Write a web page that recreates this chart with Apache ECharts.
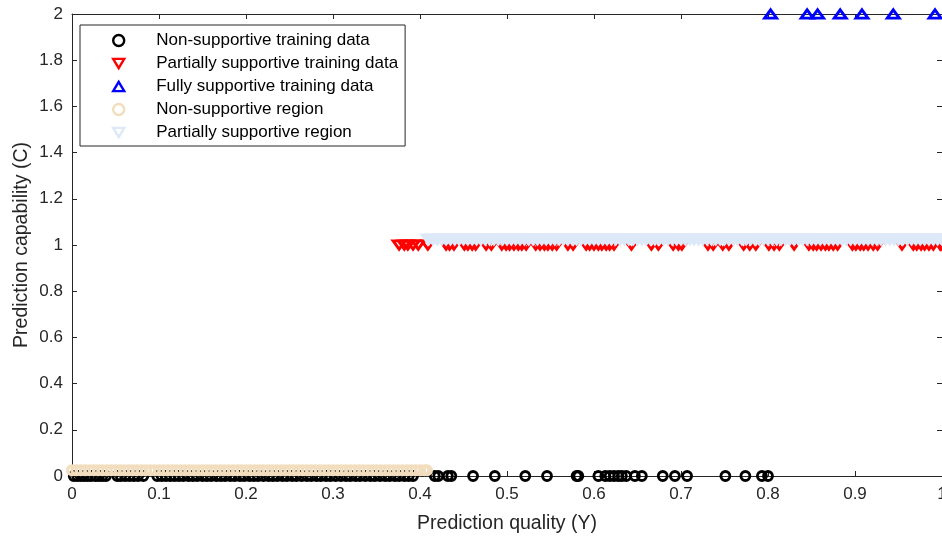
<!DOCTYPE html>
<html><head><meta charset="utf-8">
<script src="https://cdn.jsdelivr.net/npm/echarts@6/dist/echarts.min.js"></script>
<style>html,body{margin:0;padding:0;background:#fff}#c{width:942px;height:539px}</style>
</head><body><div id="c"></div>
<script>
// ---- data ----
const xTicks = [0,0.1,0.2,0.3,0.4,0.5,0.6,0.7,0.8,0.9,1];
const yTicks = [0,0.2,0.4,0.6,0.8,1,1.2,1.4,1.6,1.8,2];

const nonTrainX = [0.002,0.006,0.010,0.014,0.018,0.022,0.027,0.031,0.035,0.039,0.052,0.056,0.061,0.066,0.071,0.076,0.082,
  0.098,0.103,0.108,0.113,0.118,0.123,0.128,0.134,0.139,0.144,0.150,0.155,0.160,0.166,0.171,0.176,0.182,0.187,0.193,0.198,
  0.204,0.209,0.214,0.220,0.226,0.231,0.236,0.242,0.247,0.253,0.258,0.264,0.270,0.275,0.281,0.286,0.292,0.297,0.303,0.309,
  0.315,0.320,0.326,0.331,0.337,0.343,0.348,0.354,0.360,0.365,0.371,0.376,0.382,0.387,0.392,
  0.417,0.421,0.432,0.436,0.461,0.486,0.521,0.546,0.580,0.582,0.605,0.613,0.618,0.623,0.628,0.632,0.637,0.647,0.655,
  0.679,0.693,0.707,0.751,0.774,0.793,0.800];
const nonTrainY = 0;

const partTrainX = [0.376,0.382,0.386,0.392,0.398,0.409,0.430,0.434,0.439,0.451,0.455,0.460,0.464,0.476,0.482,
  0.494,0.499,0.503,0.508,0.513,0.517,0.522,0.533,0.538,0.543,0.547,0.552,0.557,0.570,0.576,
  0.591,0.595,0.600,0.605,0.609,0.614,0.618,0.623,0.643,0.666,0.674,0.691,0.697,0.701,0.731,0.737,0.748,0.755,
  0.772,0.779,0.786,0.801,0.807,0.813,0.830,0.847,0.852,0.856,0.861,0.866,0.870,0.875,0.880,
  0.897,0.901,0.906,0.910,0.915,0.921,0.926,0.954,0.967,0.971,0.976,0.980,0.985,0.990,0.998,1.000];
const partTrainY = 1;

const fullTrainX = [0.803,0.845,0.857,0.883,0.908,0.944,0.992];
const fullTrainY = 2;

const nonRegionX = [0.000,0.005,0.010,0.015,0.020,0.025,0.030,0.035,0.040,0.045,0.050,0.055,0.060,0.065,0.070,0.075,
  0.080,0.085,0.090,0.095,0.100,0.105,0.110,0.115,0.120,0.125,0.130,0.135,0.140,0.145,0.150,0.155,0.160,0.165,0.170,
  0.175,0.180,0.185,0.190,0.195,0.200,0.205,0.210,0.215,0.220,0.225,0.230,0.235,0.240,0.245,0.250,0.255,0.260,0.265,
  0.270,0.275,0.280,0.285,0.290,0.295,0.300,0.305,0.310,0.315,0.320,0.325,0.330,0.335,0.340,0.345,0.350,0.355,0.360,
  0.365,0.370,0.375,0.380,0.385,0.390,0.395,0.400,0.405,0.408];
const nonRegionY = 0.025;

const partRegionX = [0.410,0.415,0.420,0.425,0.430,0.435,0.440,0.445,0.450,0.455,0.460,0.465,0.470,0.475,0.480,0.485,
  0.490,0.495,0.500,0.505,0.510,0.515,0.520,0.525,0.530,0.535,0.540,0.545,0.550,0.555,0.560,0.565,0.570,0.575,0.580,
  0.585,0.590,0.595,0.600,0.605,0.610,0.615,0.620,0.625,0.630,0.635,0.640,0.645,0.650,0.655,0.660,0.665,0.670,0.675,
  0.680,0.685,0.690,0.695,0.700,0.705,0.710,0.715,0.720,0.725,0.730,0.735,0.740,0.745,0.750,0.755,0.760,0.765,0.770,
  0.775,0.780,0.785,0.790,0.795,0.800,0.805,0.810,0.815,0.820,0.825,0.830,0.835,0.840,0.845,0.850,0.855,0.860,0.865,
  0.870,0.875,0.880,0.885,0.890,0.895,0.900,0.905,0.910,0.915,0.920,0.925,0.930,0.935,0.940,0.945,0.950,0.955,0.960,
  0.965,0.970,0.975,0.980,0.985,0.990,0.995,1.000];
const partRegionY = 1.025;

const seriesNames = ['Non-supportive training data','Partially supportive training data','Fully supportive training data',
  'Non-supportive region','Partially supportive region'];

// ---- chart ----
const ink = '#262626';
const font = 'Arial, "Liberation Sans", Helvetica, sans-serif';
const downTri = 'path://M0,0L12,0L6,10Z';
const upTri = 'path://M6,0L12,10L0,10Z';
const pts = (xs, y) => xs.map(x => [x, y]);
function hollow(name, data, symbol, col, size, bw) {
  return { name, type:'scatter', data, symbol, symbolSize: size, symbolKeepAspect:true,
    itemStyle:{ color:'rgba(0,0,0,0)', borderColor: col, borderWidth: bw, opacity:1 },
    emphasis:{disabled:true}, silent:true, clip:false };
}
const chart = echarts.init(document.getElementById('c'), null, {renderer:'canvas'});
const axisCommon = {
  type:'value', axisLine:{show:true, onZero:false, lineStyle:{color:ink, width:1}},
  axisTick:{show:true, inside:true, length:5, lineStyle:{color:ink}},
  splitLine:{show:false}
};
chart.setOption({
  animation:false,
  backgroundColor:'#fff',
  grid:{left:72, right:0, top:14, bottom:63, containLabel:false, outerBoundsMode:'none'},
  xAxis:[
    Object.assign({}, axisCommon, {position:'bottom', min:xTicks[0], max:xTicks[xTicks.length-1], interval:0.1,
      axisLabel:{color:ink, fontSize:17, fontFamily:font, margin:10},
      name:'Prediction quality (Y)', nameLocation:'middle', nameGap:38, nameMoveOverlap:false,
      nameTextStyle:{color:ink, fontSize:19.5, fontFamily:font}}),
    Object.assign({}, axisCommon, {position:'top', min:0, max:1, interval:0.1, axisLabel:{show:false}})
  ],
  yAxis:[
    Object.assign({}, axisCommon, {position:'left', min:yTicks[0], max:yTicks[yTicks.length-1], interval:0.2,
      axisLabel:{color:ink, fontSize:17, fontFamily:font, margin:9},
      name:'Prediction capability (C)', nameLocation:'middle', nameGap:40, nameMoveOverlap:false,
      nameTextStyle:{color:ink, fontSize:19.5, fontFamily:font}}),
    Object.assign({}, axisCommon, {position:'right', min:0, max:2, interval:0.2, axisLabel:{show:false}})
  ],
  legend:{
    orient:'vertical', left:80, top:25, padding:[7,7,5,32], itemGap:6, itemWidth:11, itemHeight:11,
    backgroundColor:'#fff', borderColor:ink, borderWidth:1, borderRadius:0,
    itemStyle:{borderWidth:2.4},
    textStyle:{color:'#000', fontSize:17, fontFamily:font, lineHeight:17, padding:[0,0,0,27]},
    data: seriesNames.map(n => ({name:n}))
  },
  series:[
    hollow(seriesNames[0], pts(nonTrainX, nonTrainY), 'circle', '#000000', 9, 2.8),
    hollow(seriesNames[1], pts(partTrainX, partTrainY), downTri, '#FF0000', [12,10], 2.9),
    hollow(seriesNames[2], pts(fullTrainX, fullTrainY), upTri, '#0000FF', [12,10], 2.9),
    hollow(seriesNames[3], pts(nonRegionX, nonRegionY), 'circle', '#F2DDBE', 9, 3.2),
    hollow(seriesNames[4], pts(partRegionX, partRegionY), downTri, '#DDE9F8', [12,10], 3.6)
  ]
});
</script>
</body></html>
